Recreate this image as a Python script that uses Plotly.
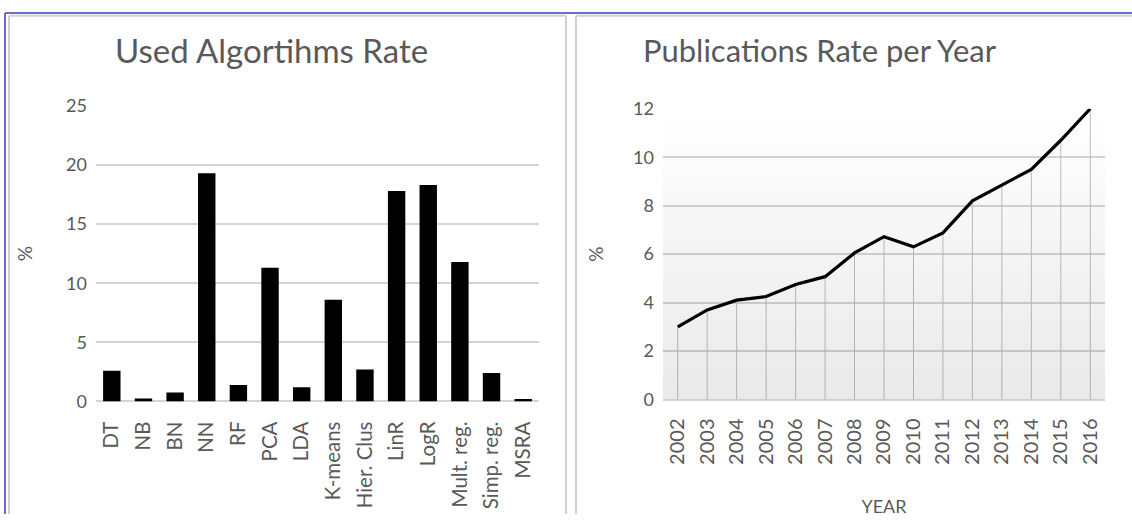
import plotly.graph_objects as go

# ---- data ----
algorithms = ["DT", "NB", "BN", "NN", "RF", "PCA", "LDA", "K-means", "Hier. Clus",
              "LinR", "LogR", "Mult. reg.", "Simp. reg.", "MSRA"]
algo_rate = [2.6, 0.25, 0.75, 19.3, 1.4, 11.3, 1.2, 8.6, 2.7, 17.8, 18.3, 11.8, 2.4, 0.2]

years = [2002, 2003, 2004, 2005, 2006, 2007, 2008, 2009, 2010, 2011, 2012, 2013, 2014, 2015, 2016]
pub_rate = [3.0, 3.7, 4.1, 4.25, 4.75, 5.07, 6.05, 6.72, 6.3, 6.88, 8.2, 8.85, 9.5, 10.7, 12.0]

left_ticks = [0, 5, 10, 15, 20, 25]
right_ticks = [0, 2, 4, 6, 8, 10, 12]
LEFT_RANGE = [0, 25]
RIGHT_RANGE = [0, 12]

FONT = "Lato"
TXT = "#595959"
GRID = "#d4d4d4"

W, H = 1132, 524

def px_x(p):
    return p / W

def px_y(p):
    return 1 - p / H

fig = go.Figure()

# Left: bars
fig.add_trace(go.Bar(x=algorithms, y=algo_rate, marker=dict(color="black", line=dict(width=0)),
                     xaxis="x", yaxis="y", showlegend=False))

# Right: gradient background on overlay axes (0..1 box)
fig.add_trace(go.Scatter(x=[0, 1, 1, 0, 0], y=[0, 0, 1, 1, 0], mode="lines", line=dict(width=0),
                         fill="toself",
                         fillgradient=dict(type="vertical",
                                           colorscale=[[0, "rgba(0,0,0,0.085)"], [1, "rgba(0,0,0,0)"]]),
                         xaxis="x3", yaxis="y3", showlegend=False, hoverinfo="skip"))

# Right: drop lines from data
dx, dy = [], []
for yr, v in zip(years, pub_rate):
    dx += [yr, yr, None]
    dy += [RIGHT_RANGE[0], v, None]
fig.add_trace(go.Scatter(x=dx, y=dy, mode="lines", line=dict(color="#bfbfbf", width=1),
                         xaxis="x2", yaxis="y2", showlegend=False, hoverinfo="skip"))

fig.add_trace(go.Scatter(x=years, y=pub_rate, mode="lines", line=dict(color="black", width=3.2),
                         xaxis="x2", yaxis="y2", showlegend=False))

left_xdom = [px_x(96), px_x(539)]
left_ydom = [px_y(406.5), px_y(98)]
right_xdom = [px_x(663), px_x(1105)]
right_ydom = [px_y(404.5), px_y(101)]

axis_font = dict(family=FONT, size=18, color=TXT)

fig.update_layout(
    width=W, height=H, margin=dict(l=0, r=0, t=0, b=0),
    paper_bgcolor="white", plot_bgcolor="rgba(0,0,0,0)",
    bargap=0.45,
    xaxis=dict(domain=left_xdom, type="category", tickangle=-90,
               tickfont=dict(family=FONT, size=20.5, color=TXT), showgrid=False,
               showline=False, zeroline=False, ticks="", ticklabelstandoff=15),
    yaxis=dict(domain=left_ydom, range=LEFT_RANGE, tickvals=left_ticks, tickfont=axis_font,
               showgrid=True, gridcolor=GRID, gridwidth=1.5, zeroline=True, zerolinecolor=GRID,
               zerolinewidth=1.5, showline=False, ticks="", ticklabelstandoff=8,
               title=dict(text="%", font=dict(family=FONT, size=19, color=TXT), standoff=28)),
    xaxis2=dict(domain=right_xdom, range=[years[0] - 0.5, years[-1] + 0.5], tickvals=years,
                ticktext=[str(y) for y in years], tickangle=-90,
                tickfont=dict(family=FONT, size=20, color=TXT), showgrid=False, zeroline=False,
                showline=False, ticks="", anchor="y2", ticklabelstandoff=14,
                title=dict(text="YEAR", font=dict(family=FONT, size=18, color=TXT), standoff=36)),
    yaxis2=dict(domain=right_ydom, range=RIGHT_RANGE, tickvals=right_ticks, tickfont=axis_font,
                showgrid=True, gridcolor=GRID, gridwidth=1.5, zeroline=True, zerolinecolor=GRID,
                zerolinewidth=1.5, showline=False, ticks="", anchor="x2", ticklabelstandoff=8,
                title=dict(text="%", font=dict(family=FONT, size=19, color=TXT), standoff=24)),
    xaxis3=dict(domain=right_xdom, range=[0, 1], visible=False, anchor="y3"),
    yaxis3=dict(domain=right_ydom, range=[0, 1], visible=False, anchor="x3"),
)

# Titles
fig.add_annotation(text="Used Algortihms Rate", x=px_x(271), y=px_y(40), xref="paper", yref="paper",
                   xanchor="center", yanchor="middle", showarrow=False,
                   font=dict(family=FONT, size=33, color=TXT))
fig.add_annotation(text="Publications Rate per Year", x=px_x(820), y=px_y(40), xref="paper", yref="paper",
                   xanchor="center", yanchor="middle", showarrow=False,
                   font=dict(family=FONT, size=31, color=TXT))

# Panel borders (open at the bottom, as the picture is cropped) and outer blue frame
PANEL = dict(color="#d0d0d0", width=2)
BLUE = dict(color="#6b6bd0", width=2)
def seg(x0, y0, x1, y1, line):
    return dict(type="line", xref="paper", yref="paper", x0=px_x(x0), x1=px_x(x1),
                y0=px_y(y0), y1=px_y(y1), line=line, layer="below")

shapes = [
    seg(9, 4, 9, 524, PANEL), seg(9, 4, 566, 4, PANEL), seg(566, 4, 566, 524, PANEL),
    seg(576, 4, 576, 524, PANEL), seg(576, 4, 1132, 4, PANEL),
    seg(5, 1, 1132, 1, BLUE), seg(5, 1, 5, 524, BLUE),
]
fig.update_layout(shapes=shapes)

fig.write_html("out.html", config={"displayModeBar": False},
               post_script="document.body.style.margin='0';")
